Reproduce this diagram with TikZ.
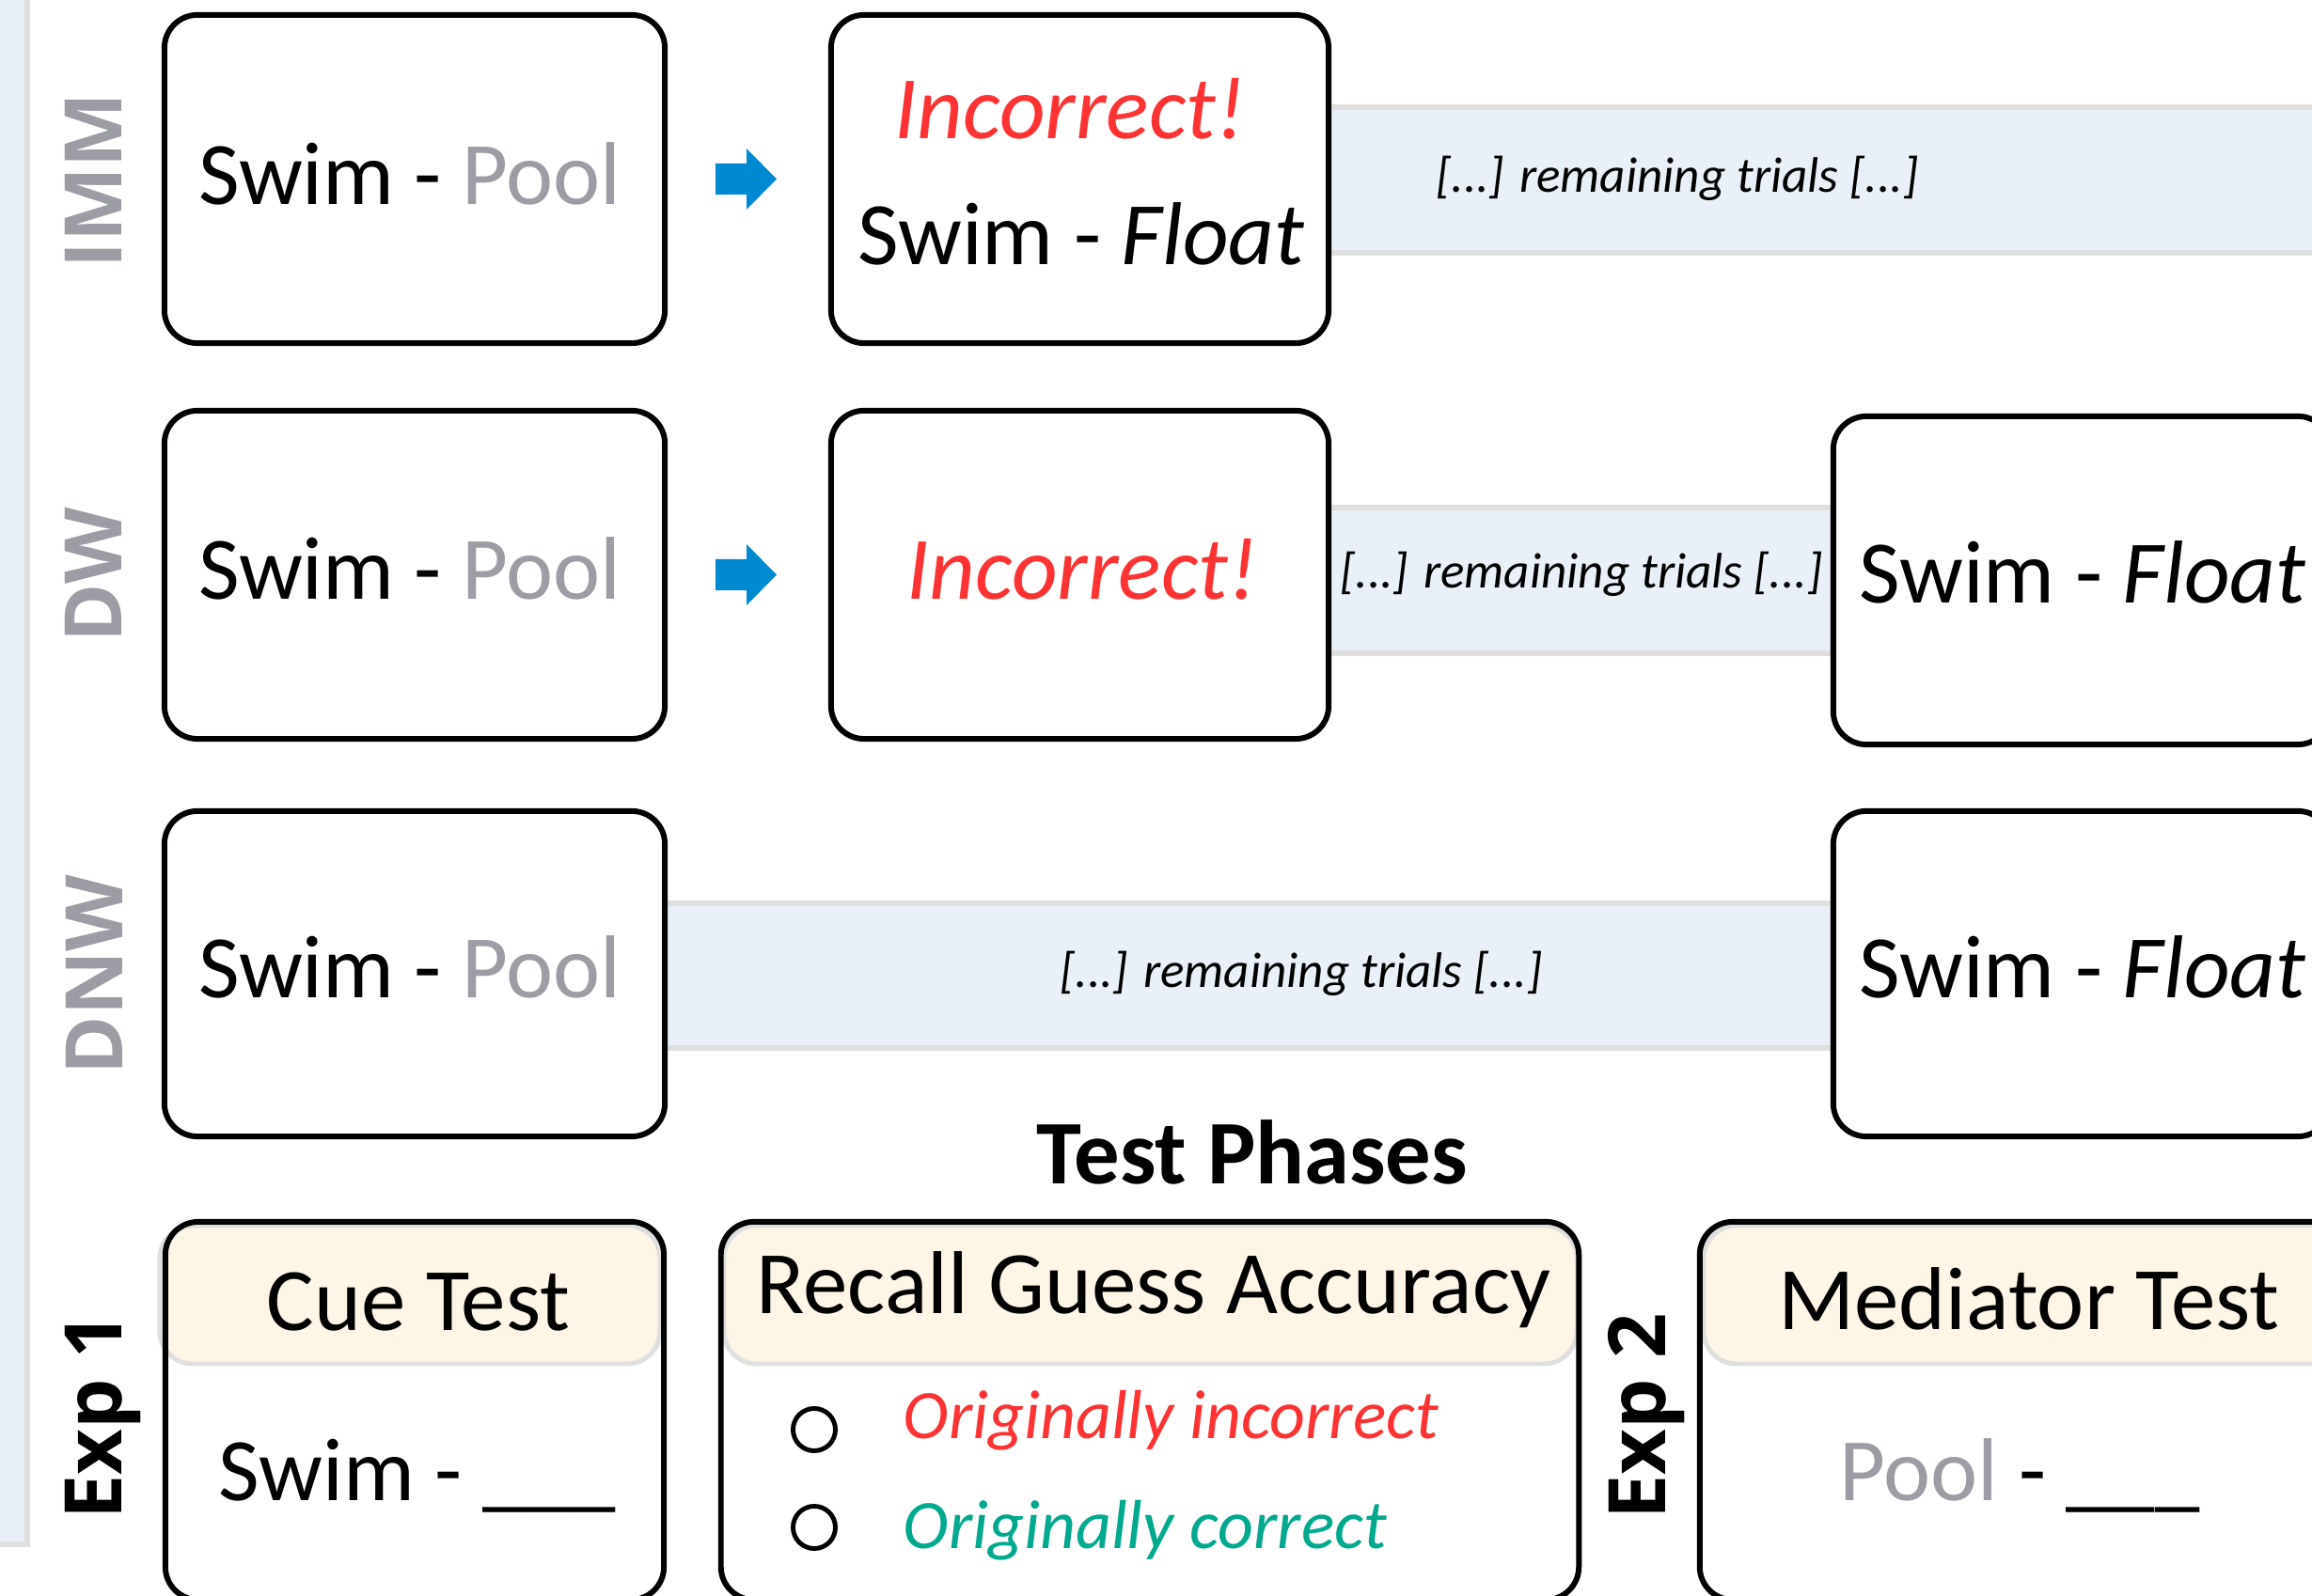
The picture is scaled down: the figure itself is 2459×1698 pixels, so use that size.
\documentclass[tikz,border=0pt]{standalone}
\usepackage{fontspec}
\setmainfont{Carlito}
\newfontfamily\labelfont{Open Sans}
\definecolor{poolgray}{RGB}{156,157,164}
\definecolor{wrongred}{RGB}{255,51,51}
\definecolor{rightteal}{RGB}{0,168,142}
\definecolor{arrowblue}{RGB}{0,136,209}
\definecolor{bandblue}{RGB}{233,240,247}
\definecolor{bandgray}{RGB}{223,223,223}
\definecolor{cream}{RGB}{253,245,229}
\begin{document}
\begin{tikzpicture}[x=0.01cm, y=-0.01cm,
  card/.style={draw=black, line width=1.7pt, rounded corners=10pt, fill=white, inner sep=0pt},
  header/.style={draw=bandgray, line width=1.4pt, rounded corners=10pt, fill=cream, inner sep=0pt},
  band/.style={draw=bandgray, line width=1.7pt, fill=bandblue},
  big/.style={font=\fontsize{27}{32}\selectfont, anchor=base, inner sep=0pt},
  bigit/.style={big, font=\itshape\fontsize{27}{32}\selectfont},
  trial/.style={font=\itshape\fontsize{15.1}{18}\selectfont, inner sep=0pt},
  opt/.style={font=\itshape\fontsize{21}{25}\selectfont, anchor=base west, inner sep=0pt},
  lab/.style={font=\labelfont\bfseries\fontsize{24}{28}\selectfont, rotate=90, anchor=base, inner sep=0pt},
  radio/.style={circle, draw=black, line width=1.4pt, minimum size=0.45cm, inner sep=0pt},
  blockarrow/.style={fill=arrowblue}]
\useasboundingbox (0,0) rectangle (2459,1698);
\clip (0,0) rectangle (2459,1698);

% left margin strip
\draw[band, line width=1.5pt] (-30,-30) rectangle (29,1643);

% "remaining trials" strips (under the cards)
\draw[band] (1400,114) rectangle (2490,269);
\draw[band] (1400,540) rectangle (1960,695);
\draw[band] (700,961) rectangle (1960,1115);

% study-phase cards
\node[card, minimum width=5.32cm, minimum height=3.49cm] (a1) at (441,190.5) {};
\node[card, minimum width=5.29cm, minimum height=3.49cm] (b1) at (1148.5,190.5) {};
\node[card, minimum width=5.32cm, minimum height=3.49cm] (a2) at (441,611.5) {};
\node[card, minimum width=5.29cm, minimum height=3.49cm] (b2) at (1148.5,611.5) {};
\node[card, minimum width=5.29cm, minimum height=3.49cm] (c2) at (2214.5,617.5) {};
\node[card, minimum width=5.32cm, minimum height=3.46cm] (a3) at (441,1036) {};
\node[card, minimum width=5.29cm, minimum height=3.46cm] (c3) at (2214.5,1036) {};

% block arrows between the first two cards
\fill[blockarrow, shift={(a1.center)}] (320,-16.5) -- (353,-16.5) -- (353,-32.5) -- (385,0)
  -- (353,32.5) -- (353,16.5) -- (320,16.5) -- cycle;
\fill[blockarrow, shift={(a2.center)}] (320,-16.5) -- (353,-16.5) -- (353,-32.5) -- (385,0)
  -- (353,32.5) -- (353,16.5) -- (320,16.5) -- cycle;

% condition labels
\node[lab, text=poolgray] (limm) at (129,192) {IMM};
\node[lab, text=poolgray] (ldw) at (129,612) {DW};
\node[lab, text=poolgray] (ldnw) at (130,1037) {DNW};

% card texts
\node[big] (a1t) at (436,218) {Swim - \textcolor{poolgray}{Pool}};
\node[bigit, text=wrongred] (b1i) at (1138,148) {Incorrect!};
\node[big] (b1t) at (1150,282) {Swim - \textit{Float}};
\node[trial] (s1t) at (1784,190) {[...] remaining trials [...]};

\node[big] (a2t) at (436,638) {Swim - \textcolor{poolgray}{Pool}};
\node[bigit, text=wrongred] (b2i) at (1151,638) {Incorrect!};
\node[trial] (s2t) at (1682,611) {[...] remaining trials [...]};
\node[big] (c2t) at (2215,642) {Swim - \textit{Float}};

\node[big] (a3t) at (436,1062) {Swim - \textcolor{poolgray}{Pool}};
\node[trial] (s3t) at (1384,1036) {[...] remaining trials [...]};
\node[big] (c3t) at (2215,1062) {Swim - \textit{Float}};

% test phases
\node[big, font=\bfseries\fontsize{27.5}{32}\selectfont] (title) at (1332,1260) {Test Phases};

\node[header, minimum width=5.32cm, minimum height=1.47cm] (ha4) at (436,1377.5) {};
\node[header, minimum width=9.07cm, minimum height=1.47cm] (hb4) at (1223.5,1377.5) {};
\node[header, minimum width=6.93cm, minimum height=1.47cm] (hc4) at (2158.5,1377.5) {};

\node[card, fill=none, minimum width=5.30cm, minimum height=4.02cm] (a4) at (441,1501) {};
\node[card, fill=none, minimum width=9.12cm, minimum height=4.02cm] (b4) at (1223,1501) {};
\node[card, fill=none, minimum width=6.97cm, minimum height=4.02cm] (c4) at (2156.5,1501) {};

\node[lab] (lexp1) at (129,1507) {Exp 1};
\node[lab] (lexp2) at (1771,1507) {Exp 2};

\node[big] (cue) at (445,1416) {Cue Test};
\node[big] (cuet) at (444,1597) {Swim - \_\_\_};

\node[big] (rga) at (1227,1398) {Recall Guess Accuracy};
\node[radio] (r1) at (866,1521) {};
\node[radio] (r2) at (866,1625) {};
\node[opt, text=wrongred] (o1) at (960,1531) {Originally incorrect};
\node[opt, text=rightteal] (o2) at (960,1648) {Originally correct};

\node[big] (med) at (2158,1415) {Mediator Test};
\node[big] (medt) at (2148,1597) {\textcolor{poolgray}{Pool} - \_\_\_};
\end{tikzpicture}
\end{document}
